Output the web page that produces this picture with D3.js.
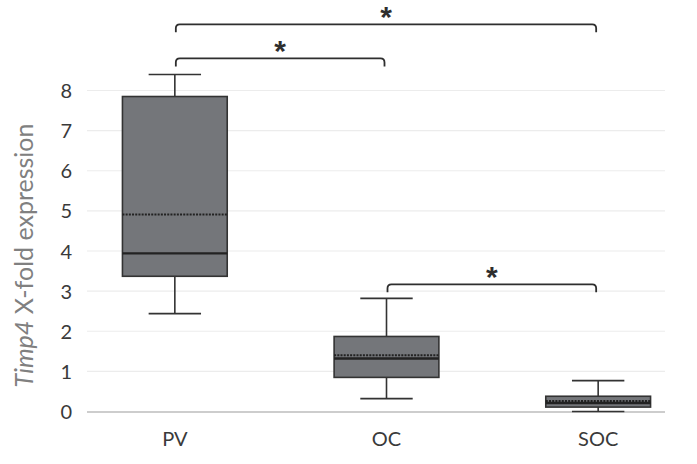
<!DOCTYPE html>
<html><head><meta charset="utf-8">
<script src="https://cdn.jsdelivr.net/npm/d3@7"></script>
<style>body{margin:0;background:#fff}svg{display:block}</style>
</head><body>
<svg id="c" width="697" height="464"></svg>
<script>
const categories = ["PV", "OC", "SOC"];
const minVals    = [2.44, 0.32, 0.0];
const q1Vals     = [3.37, 0.85, 0.11];
const medianVals = [3.94, 1.32, 0.21];
const meanVals   = [4.91, 1.40, 0.26];
const q3Vals     = [7.85, 1.87, 0.38];
const maxVals    = [8.40, 2.82, 0.77];
const yTicks = [0,1,2,3,4,5,6,7,8];
const comparisons = [["PV","SOC",9.65],["PV","OC",8.80],["OC","SOC",3.17]];

const svg = d3.select("#c");
const font = "Lato, 'Open Sans', sans-serif";
const x = d3.scaleBand().domain(categories).range([69, 704]).paddingInner(0).paddingOuter(0);
const y = d3.scaleLinear().domain([0, 8]).range([411.5, 90.5]);
const gx0 = 87, gx1 = 665;

// gridlines
svg.append("g").selectAll("line").data(yTicks.filter(d=>d>0)).join("line")
  .attr("x1", gx0).attr("x2", gx1).attr("y1", d=>y(d)).attr("y2", d=>y(d))
  .attr("stroke", "#ececec").attr("stroke-width", 1.2);

// y axis labels
const yAxis = d3.axisLeft(y).tickValues(yTicks).tickSize(0).tickPadding(0).tickFormat(d3.format("d"));
const ya = svg.append("g").attr("transform", "translate(72,0)").call(yAxis);
ya.select(".domain").remove();
ya.selectAll("text").attr("font-family", font).attr("font-size", 20).attr("fill", "#3a3a3a").attr("dy", "0.35em");

// x axis
const xAxis = d3.axisBottom(x).tickSize(0).tickPadding(20);
const xa = svg.append("g").attr("transform", `translate(0,${y(0)})`).call(xAxis);
xa.select(".domain").remove();
xa.selectAll("text").attr("font-family", font).attr("font-size", 20).attr("fill", "#3a3a3a");
svg.append("line").attr("x1", gx0).attr("x2", gx1).attr("y1", y(0)+0.5).attr("y2", y(0)+0.5)
  .attr("stroke", "#bdbdbd").attr("stroke-width", 1.5);

// y title
const yt = svg.append("text").attr("transform", "translate(33,255.5) rotate(-90)")
  .attr("text-anchor", "middle").attr("font-family", font).attr("font-size", 25).attr("fill", "#808080");
yt.append("tspan").attr("font-style", "italic").text("Timp4");
yt.append("tspan").text(" X-fold expression");

// boxes
const bw = x.bandwidth() * 0.495;
const cw = bw * 0.5;
const stroke = "#333333";
categories.forEach((c, i) => {
  const cx = x(c) + x.bandwidth()/2;
  const g = svg.append("g");
  g.append("line").attr("x1", cx).attr("x2", cx).attr("y1", y(maxVals[i])).attr("y2", y(q3Vals[i])).attr("stroke", stroke).attr("stroke-width", 1.6);
  g.append("line").attr("x1", cx).attr("x2", cx).attr("y1", y(q1Vals[i])).attr("y2", y(minVals[i])).attr("stroke", stroke).attr("stroke-width", 1.6);
  [maxVals[i], minVals[i]].forEach(v => g.append("line").attr("x1", cx-cw/2).attr("x2", cx+cw/2).attr("y1", y(v)).attr("y2", y(v)).attr("stroke", stroke).attr("stroke-width", 1.6));
  g.append("rect").attr("x", cx-bw/2).attr("width", bw).attr("y", y(q3Vals[i])).attr("height", y(q1Vals[i])-y(q3Vals[i]))
    .attr("fill", "#74767a").attr("stroke", stroke).attr("stroke-width", 1.6);
  g.append("line").attr("x1", cx-bw/2).attr("x2", cx+bw/2).attr("y1", y(meanVals[i])).attr("y2", y(meanVals[i]))
    .attr("stroke", "#222").attr("stroke-width", 2).attr("stroke-dasharray", "2,1.2");
  g.append("line").attr("x1", cx-bw/2).attr("x2", cx+bw/2).attr("y1", y(medianVals[i])).attr("y2", y(medianVals[i]))
    .attr("stroke", "#222").attr("stroke-width", 2.4);
});

// significance brackets
const fs = 30;
comparisons.forEach(([a, b, lvl]) => {
  const x1 = x(a) + x.bandwidth()/2 + 1, x2 = x(b) + x.bandwidth()/2 - 2;
  const yy = y(lvl), r = 4, h = 8;
  const p = `M${x1},${yy+h} L${x1},${yy+r} Q${x1},${yy} ${x1+r},${yy} L${x2-r},${yy} Q${x2},${yy} ${x2},${yy+r} L${x2},${yy+h}`;
  svg.append("path").attr("d", p).attr("fill", "none").attr("stroke", "#2e2e2e").attr("stroke-width", 1.8);
  svg.append("text").attr("x", (x1+x2)/2).attr("y", yy - 10 + 0.43*fs).attr("text-anchor", "middle")
    .attr("font-family", "'Liberation Sans', Arial, sans-serif").attr("font-size", fs).attr("font-weight", "bold").attr("fill", "#2e2e2e")
    .text("*");
});
</script>
</body></html>
